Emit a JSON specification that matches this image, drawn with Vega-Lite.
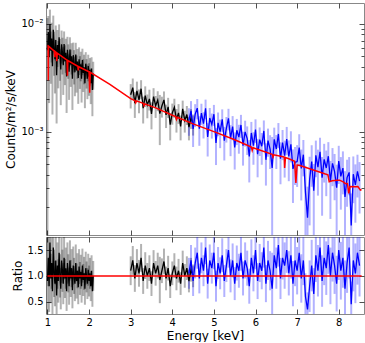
{
"$schema": "https://vega.github.io/schema/vega-lite/v6.json",
"padding": {"top": 2, "left": 4, "right": 3, "bottom": 0},
"spacing": 0,
"datasets": {
"d": [
{"e":1.00,"y":5.69e-3,"dy":5.62e-3,"r":0.90,"rd":0.89,"s":"a1"},
{"e":1.02,"y":8.40e-3,"dy":3.42e-3,"r":1.35,"rd":0.55,"s":"a1"},
{"e":1.04,"y":4.90e-3,"dy":3.06e-3,"r":0.80,"rd":0.50,"s":"a1"},
{"e":1.06,"y":9.93e-3,"dy":3.61e-3,"r":1.65,"rd":0.60,"s":"a1"},
{"e":1.08,"y":5.63e-3,"dy":2.85e-3,"r":0.95,"rd":0.48,"s":"a1"},
{"e":1.10,"y":7.31e-3,"dy":2.93e-3,"r":1.25,"rd":0.50,"s":"a1"},
{"e":1.12,"y":4.04e-3,"dy":2.60e-3,"r":0.70,"rd":0.45,"s":"a1"},
{"e":1.14,"y":8.80e-3,"dy":3.12e-3,"r":1.55,"rd":0.55,"s":"a1"},
{"e":1.16,"y":5.88e-3,"dy":2.58e-3,"r":1.05,"rd":0.46,"s":"a1"},
{"e":1.18,"y":4.69e-3,"dy":2.43e-3,"r":0.85,"rd":0.44,"s":"a1"},
{"e":1.20,"y":7.09e-3,"dy":2.56e-3,"r":1.30,"rd":0.47,"s":"a1"},
{"e":1.22,"y":3.34e-3,"dy":2.15e-3,"r":0.62,"rd":0.40,"s":"a1"},
{"e":1.24,"y":6.37e-3,"dy":2.39e-3,"r":1.20,"rd":0.45,"s":"a1"},
{"e":1.26,"y":4.72e-3,"dy":2.20e-3,"r":0.90,"rd":0.42,"s":"a1"},
{"e":1.28,"y":7.50e-3,"dy":2.38e-3,"r":1.45,"rd":0.46,"s":"a1"},
{"e":1.30,"y":5.10e-3,"dy":2.14e-3,"r":1.00,"rd":0.42,"s":"a1"},
{"e":1.32,"y":3.78e-3,"dy":2.02e-3,"r":0.75,"rd":0.40,"s":"a1"},
{"e":1.34,"y":6.47e-3,"dy":2.19e-3,"r":1.30,"rd":0.44,"s":"a1"},
{"e":1.36,"y":5.41e-3,"dy":2.02e-3,"r":1.10,"rd":0.41,"s":"a1"},
{"e":1.38,"y":4.13e-3,"dy":1.94e-3,"r":0.85,"rd":0.40,"s":"a1"},
{"e":1.40,"y":6.48e-3,"dy":2.02e-3,"r":1.35,"rd":0.42,"s":"a1"},
{"e":1.42,"y":4.51e-3,"dy":1.81e-3,"r":0.95,"rd":0.38,"s":"a1"},
{"e":1.44,"y":5.39e-3,"dy":1.88e-3,"r":1.15,"rd":0.40,"s":"a1"},
{"e":1.46,"y":3.25e-3,"dy":1.76e-3,"r":0.70,"rd":0.38,"s":"a1"},
{"e":1.48,"y":5.74e-3,"dy":1.84e-3,"r":1.25,"rd":0.40,"s":"a1"},
{"e":1.50,"y":4.77e-3,"dy":1.68e-3,"r":1.05,"rd":0.37,"s":"a1"},
{"e":1.52,"y":3.59e-3,"dy":1.62e-3,"r":0.80,"rd":0.36,"s":"a1"},
{"e":1.54,"y":5.77e-3,"dy":1.73e-3,"r":1.30,"rd":0.39,"s":"a1"},
{"e":1.56,"y":4.18e-3,"dy":1.58e-3,"r":0.95,"rd":0.36,"s":"a1"},
{"e":1.58,"y":5.00e-3,"dy":1.61e-3,"r":1.15,"rd":0.37,"s":"a1"},
{"e":1.60,"y":3.10e-3,"dy":1.51e-3,"r":0.72,"rd":0.35,"s":"a1"},
{"e":1.62,"y":5.12e-3,"dy":1.58e-3,"r":1.20,"rd":0.37,"s":"a1"},
{"e":1.64,"y":4.22e-3,"dy":1.48e-3,"r":1.00,"rd":0.35,"s":"a1"},
{"e":1.66,"y":3.55e-3,"dy":1.42e-3,"r":0.85,"rd":0.34,"s":"a1"},
{"e":1.68,"y":5.18e-3,"dy":1.49e-3,"r":1.25,"rd":0.36,"s":"a1"},
{"e":1.70,"y":3.69e-3,"dy":1.39e-3,"r":0.90,"rd":0.34,"s":"a1"},
{"e":1.72,"y":4.47e-3,"dy":1.38e-3,"r":1.10,"rd":0.34,"s":"a1"},
{"e":1.74,"y":3.14e-3,"dy":1.33e-3,"r":0.78,"rd":0.33,"s":"a1"},
{"e":1.76,"y":4.70e-3,"dy":1.35e-3,"r":1.18,"rd":0.34,"s":"a1"},
{"e":1.78,"y":3.75e-3,"dy":1.26e-3,"r":0.95,"rd":0.32,"s":"a1"},
{"e":1.80,"y":4.22e-3,"dy":1.29e-3,"r":1.08,"rd":0.33,"s":"a1"},
{"e":1.82,"y":3.10e-3,"dy":1.24e-3,"r":0.80,"rd":0.32,"s":"a1"},
{"e":1.84,"y":4.61e-3,"dy":1.27e-3,"r":1.20,"rd":0.33,"s":"a1"},
{"e":1.86,"y":3.51e-3,"dy":1.18e-3,"r":0.92,"rd":0.31,"s":"a1"},
{"e":1.88,"y":3.96e-3,"dy":1.21e-3,"r":1.05,"rd":0.32,"s":"a1"},
{"e":1.90,"y":2.81e-3,"dy":1.16e-3,"r":0.75,"rd":0.31,"s":"a1"},
{"e":1.92,"y":4.27e-3,"dy":1.19e-3,"r":1.15,"rd":0.32,"s":"a1"},
{"e":1.94,"y":3.61e-3,"dy":1.10e-3,"r":0.98,"rd":0.30,"s":"a1"},
{"e":1.96,"y":3.10e-3,"dy":1.10e-3,"r":0.85,"rd":0.30,"s":"a1"},
{"e":1.98,"y":4.05e-3,"dy":1.12e-3,"r":1.12,"rd":0.31,"s":"a1"},
{"e":2.00,"y":3.23e-3,"dy":1.08e-3,"r":0.90,"rd":0.30,"s":"a1"},
{"e":2.02,"y":3.74e-3,"dy":1.07e-3,"r":1.05,"rd":0.30,"s":"a1"},
{"e":2.04,"y":2.82e-3,"dy":1.02e-3,"r":0.80,"rd":0.29,"s":"a1"},
{"e":2.06,"y":3.85e-3,"dy":1.05e-3,"r":1.10,"rd":0.30,"s":"a1"},
{"e":2.08,"y":2.43e-3,"dy":1.04e-3,"r":0.70,"rd":0.30,"s":"a1"},
{"e":2.10,"y":3.45e-3,"dy":1.00e-3,"r":1.00,"rd":0.29,"s":"a1"},
{"e":3.00,"y":2.20e-3,"dy":5.6e-4,"r":1.10,"rd":0.28,"s":"a2"},
{"e":3.05,"y":2.56e-3,"dy":5.5e-4,"r":1.30,"rd":0.28,"s":"a2"},
{"e":3.10,"y":1.84e-3,"dy":5.0e-4,"r":0.95,"rd":0.26,"s":"a2"},
{"e":3.15,"y":2.39e-3,"dy":5.2e-4,"r":1.25,"rd":0.27,"s":"a2"},
{"e":3.20,"y":1.97e-3,"dy":4.9e-4,"r":1.05,"rd":0.26,"s":"a2"},
{"e":3.25,"y":2.50e-3,"dy":5.0e-4,"r":1.35,"rd":0.27,"s":"a2"},
{"e":3.30,"y":1.65e-3,"dy":4.6e-4,"r":0.90,"rd":0.25,"s":"a2"},
{"e":3.35,"y":2.16e-3,"dy":4.7e-4,"r":1.20,"rd":0.26,"s":"a2"},
{"e":3.40,"y":1.77e-3,"dy":4.4e-4,"r":1.00,"rd":0.25,"s":"a2"},
{"e":3.45,"y":2.01e-3,"dy":4.4e-4,"r":1.15,"rd":0.25,"s":"a2"},
{"e":3.50,"y":1.46e-3,"dy":4.1e-4,"r":0.85,"rd":0.24,"s":"a2"},
{"e":3.55,"y":2.11e-3,"dy":4.2e-4,"r":1.25,"rd":0.25,"s":"a2"},
{"e":3.60,"y":1.74e-3,"dy":4.0e-4,"r":1.05,"rd":0.24,"s":"a2"},
{"e":3.65,"y":1.96e-3,"dy":4.1e-4,"r":1.20,"rd":0.25,"s":"a2"},
{"e":3.70,"y":1.47e-3,"dy":7.2e-4,"r":0.92,"rd":0.45,"s":"a2"},
{"e":3.75,"y":1.73e-3,"dy":3.8e-4,"r":1.10,"rd":0.24,"s":"a2"},
{"e":3.80,"y":1.97e-3,"dy":3.9e-4,"r":1.28,"rd":0.25,"s":"a2"},
{"e":3.85,"y":1.43e-3,"dy":3.5e-4,"r":0.95,"rd":0.23,"s":"a2"},
{"e":3.90,"y":1.70e-3,"dy":3.6e-4,"r":1.15,"rd":0.24,"s":"a2"},
{"e":3.95,"y":1.16e-3,"dy":3.3e-4,"r":0.80,"rd":0.23,"s":"a2"},
{"e":4.00,"y":1.49e-3,"dy":3.3e-4,"r":1.05,"rd":0.23,"s":"a2"},
{"e":4.05,"y":1.68e-3,"dy":3.4e-4,"r":1.20,"rd":0.24,"s":"a2"},
{"e":4.10,"y":1.30e-3,"dy":3.2e-4,"r":0.95,"rd":0.23,"s":"a2"},
{"e":4.15,"y":1.49e-3,"dy":3.1e-4,"r":1.10,"rd":0.23,"s":"a2"},
{"e":4.20,"y":1.12e-3,"dy":2.9e-4,"r":0.85,"rd":0.22,"s":"a2"},
{"e":4.25,"y":1.63e-3,"dy":3.1e-4,"r":1.25,"rd":0.24,"s":"a2"},
{"e":4.30,"y":1.27e-3,"dy":2.9e-4,"r":1.00,"rd":0.23,"s":"a2"},
{"e":4.35,"y":1.44e-3,"dy":2.9e-4,"r":1.15,"rd":0.23,"s":"a2"},
{"e":4.40,"y":1.10e-3,"dy":2.7e-4,"r":0.90,"rd":0.22,"s":"a2"},
{"e":4.45,"y":1.34e-3,"dy":2.8e-4,"r":1.12,"rd":0.23,"s":"a2"},
{"e":4.50,"y":1.18e-3,"dy":2.6e-4,"r":1.00,"rd":0.22,"s":"a2"},
{"e":4.40,"y":1.281e-3,"dy":3.66e-4,"r":1.05,"rd":0.30,"s":"b"},
{"e":4.45,"y":1.56e-3,"dy":3.6e-4,"r":1.30,"rd":0.30,"s":"b"},
{"e":4.50,"y":1.062e-3,"dy":3.42e-4,"r":0.90,"rd":0.29,"s":"b"},
{"e":4.55,"y":1.45e-3,"dy":3.48e-4,"r":1.25,"rd":0.30,"s":"b"},
{"e":4.60,"y":1.653e-3,"dy":3.53e-4,"r":1.45,"rd":0.31,"s":"b"},
{"e":4.65,"y":1.064e-3,"dy":3.25e-4,"r":0.95,"rd":0.29,"s":"b"},
{"e":4.70,"y":1.485e-3,"dy":3.3e-4,"r":1.35,"rd":0.30,"s":"b"},
{"e":4.75,"y":1.188e-3,"dy":3.24e-4,"r":1.10,"rd":0.30,"s":"b"},
{"e":4.80,"y":1.643e-3,"dy":3.39e-4,"r":1.55,"rd":0.32,"s":"b"},
{"e":4.85,"y":8.93e-4,"dy":3.05e-4,"r":0.85,"rd":0.29,"s":"b"},
{"e":4.90,"y":1.339e-3,"dy":3.19e-4,"r":1.30,"rd":0.31,"s":"b"},
{"e":4.95,"y":1.167e-3,"dy":3.05e-4,"r":1.15,"rd":0.30,"s":"b"},
{"e":5.00,"y":1.45e-3,"dy":3.2e-4,"r":1.45,"rd":0.32,"s":"b"},
{"e":5.05,"y":7.84e-4,"dy":2.94e-4,"r":0.80,"rd":0.30,"s":"b"},
{"e":5.10,"y":1.206e-3,"dy":2.99e-4,"r":1.25,"rd":0.31,"s":"b"},
{"e":5.15,"y":9.98e-4,"dy":2.95e-4,"r":1.05,"rd":0.31,"s":"b"},
{"e":5.20,"y":1.302e-3,"dy":3.07e-4,"r":1.40,"rd":0.33,"s":"b"},
{"e":5.25,"y":8.24e-4,"dy":2.84e-4,"r":0.90,"rd":0.31,"s":"b"},
{"e":5.30,"y":1.08e-3,"dy":2.88e-4,"r":1.20,"rd":0.32,"s":"b"},
{"e":5.35,"y":1.328e-3,"dy":3.01e-4,"r":1.50,"rd":0.34,"s":"b"},
{"e":5.40,"y":8.7e-4,"dy":2.78e-4,"r":1.00,"rd":0.32,"s":"b"},
{"e":5.45,"y":1.112e-3,"dy":2.82e-4,"r":1.30,"rd":0.33,"s":"b"},
{"e":5.50,"y":7.14e-4,"dy":2.69e-4,"r":0.85,"rd":0.32,"s":"b"},
{"e":5.55,"y":1.031e-3,"dy":2.81e-4,"r":1.25,"rd":0.34,"s":"b"},
{"e":5.60,"y":8.91e-4,"dy":2.67e-4,"r":1.10,"rd":0.33,"s":"b"},
{"e":5.65,"y":1.153e-3,"dy":2.78e-4,"r":1.45,"rd":0.35,"s":"b"},
{"e":5.70,"y":7.41e-4,"dy":2.57e-4,"r":0.95,"rd":0.33,"s":"b"},
{"e":5.75,"y":9.95e-4,"dy":2.68e-4,"r":1.30,"rd":0.35,"s":"b"},
{"e":5.80,"y":8.63e-4,"dy":2.55e-4,"r":1.15,"rd":0.34,"s":"b"},
{"e":5.85,"y":5.88e-4,"dy":2.5e-4,"r":0.80,"rd":0.34,"s":"b"},
{"e":5.90,"y":9.72e-4,"dy":2.59e-4,"r":1.35,"rd":0.36,"s":"b"},
{"e":5.95,"y":7.4e-4,"dy":2.47e-4,"r":1.05,"rd":0.35,"s":"b"},
{"e":6.00,"y":1.043e-3,"dy":2.57e-4,"r":1.50,"rd":0.37,"s":"b"},
{"e":6.05,"y":6.17e-4,"dy":2.4e-4,"r":0.90,"rd":0.35,"s":"b"},
{"e":6.10,"y":8.44e-4,"dy":2.5e-4,"r":1.25,"rd":0.37,"s":"b"},
{"e":6.15,"y":7.32e-4,"dy":2.39e-4,"r":1.10,"rd":0.36,"s":"b"},
{"e":6.20,"y":1.015e-3,"dy":2.55e-4,"r":1.55,"rd":0.39,"s":"b"},
{"e":6.25,"y":5.48e-4,"dy":2.32e-4,"r":0.85,"rd":0.36,"s":"b"},
{"e":6.30,"y":8.26e-4,"dy":2.41e-4,"r":1.30,"rd":0.38,"s":"b"},
{"e":6.35,"y":6.88e-4,"dy":2.38e-4,"r":1.10,"rd":0.38,"s":"b"},
{"e":6.40,"y":4.61e-4,"dy":4.31e-4,"r":0.75,"rd":0.70,"s":"b"},
{"e":6.45,"y":8.47e-4,"dy":2.42e-4,"r":1.40,"rd":0.40,"s":"b"},
{"e":6.50,"y":6.9e-4,"dy":2.4e-4,"r":1.15,"rd":0.40,"s":"b"},
{"e":6.55,"y":9.52e-4,"dy":2.5e-4,"r":1.60,"rd":0.42,"s":"b"},
{"e":6.60,"y":5.61e-4,"dy":2.36e-4,"r":0.95,"rd":0.40,"s":"b"},
{"e":6.65,"y":7.9e-4,"dy":2.46e-4,"r":1.35,"rd":0.42,"s":"b"},
{"e":6.70,"y":6.0e-4,"dy":2.25e-4,"r":1.20,"rd":0.45,"s":"b"},
{"e":6.75,"y":8.55e-4,"dy":2.51e-4,"r":1.50,"rd":0.44,"s":"b"},
{"e":6.80,"y":5.88e-4,"dy":2.41e-4,"r":1.05,"rd":0.43,"s":"b"},
{"e":6.85,"y":7.63e-4,"dy":2.45e-4,"r":1.40,"rd":0.45,"s":"b"},
{"e":6.90,"y":4.51e-4,"dy":2.33e-4,"r":0.85,"rd":0.44,"s":"b"},
{"e":6.95,"y":5.2e-4,"dy":2.0e-4,"r":1.30,"rd":0.50,"s":"b"},
{"e":7.00,"y":5.28e-4,"dy":2.21e-4,"r":1.10,"rd":0.46,"s":"b"},
{"e":7.05,"y":7.11e-4,"dy":2.35e-4,"r":1.45,"rd":0.48,"s":"b"},
{"e":7.10,"y":4.56e-4,"dy":2.26e-4,"r":0.95,"rd":0.47,"s":"b"},
{"e":7.15,"y":6.11e-4,"dy":2.26e-4,"r":1.30,"rd":0.48,"s":"b"},
{"e":7.20,"y":2.76e-4,"dy":2.07e-4,"r":0.60,"rd":0.45,"s":"b"},
{"e":7.25,"y":1.59e-4,"dy":1.5e-4,"r":0.35,"rd":0.33,"s":"b"},
{"e":7.30,"y":3.6e-4,"dy":2.25e-4,"r":0.80,"rd":0.50,"s":"b"},
{"e":7.35,"y":5.28e-4,"dy":2.2e-4,"r":1.20,"rd":0.50,"s":"b"},
{"e":7.40,"y":2.83e-4,"dy":2.18e-4,"r":0.65,"rd":0.50,"s":"b"},
{"e":7.45,"y":6.02e-4,"dy":2.24e-4,"r":1.40,"rd":0.52,"s":"b"},
{"e":7.50,"y":4.68e-4,"dy":2.13e-4,"r":1.10,"rd":0.50,"s":"b"},
{"e":7.55,"y":6.51e-4,"dy":2.27e-4,"r":1.55,"rd":0.54,"s":"b"},
{"e":7.60,"y":3.74e-4,"dy":2.08e-4,"r":0.90,"rd":0.50,"s":"b"},
{"e":7.65,"y":5.54e-4,"dy":2.17e-4,"r":1.35,"rd":0.53,"s":"b"},
{"e":7.70,"y":4.6e-4,"dy":2.08e-4,"r":1.15,"rd":0.52,"s":"b"},
{"e":7.75,"y":5.92e-4,"dy":2.07e-4,"r":1.60,"rd":0.56,"s":"b"},
{"e":7.80,"y":3.45e-4,"dy":1.9e-4,"r":1.00,"rd":0.55,"s":"b"},
{"e":7.85,"y":5.08e-4,"dy":1.96e-4,"r":1.45,"rd":0.56,"s":"b"},
{"e":7.90,"y":4.26e-4,"dy":1.95e-4,"r":1.20,"rd":0.55,"s":"b"},
{"e":7.95,"y":3.02e-4,"dy":1.92e-4,"r":0.85,"rd":0.54,"s":"b"},
{"e":8.00,"y":5.33e-4,"dy":2.06e-4,"r":1.50,"rd":0.58,"s":"b"},
{"e":8.05,"y":3.85e-4,"dy":1.96e-4,"r":1.10,"rd":0.56,"s":"b"},
{"e":8.10,"y":4.59e-4,"dy":1.97e-4,"r":1.35,"rd":0.58,"s":"b"},
{"e":8.15,"y":2.48e-4,"dy":1.82e-4,"r":0.75,"rd":0.55,"s":"b"},
{"e":8.20,"y":3.75e-4,"dy":1.74e-4,"r":1.25,"rd":0.58,"s":"b"},
{"e":8.25,"y":4.19e-4,"dy":1.62e-4,"r":1.55,"rd":0.60,"s":"b"},
{"e":8.30,"y":1.35e-4,"dy":1.32e-4,"r":0.45,"rd":0.44,"s":"b"},
{"e":8.35,"y":4.03e-4,"dy":1.86e-4,"r":1.30,"rd":0.60,"s":"b"},
{"e":8.40,"y":3.2e-4,"dy":1.77e-4,"r":1.05,"rd":0.58,"s":"b"},
{"e":8.45,"y":4.28e-4,"dy":1.83e-4,"r":1.45,"rd":0.62,"s":"b"},
{"e":8.50,"y":3.48e-4,"dy":1.74e-4,"r":1.20,"rd":0.60,"s":"b"}
],
"m": [
{"e":1.00,"v":6.32e-3},{"e":1.015,"v":6.25e-3},{"e":1.02,"v":3.0e-3},{"e":1.025,"v":6.2e-3},
{"e":1.165,"v":5.58e-3},{"e":1.175,"v":4.9e-3},{"e":1.185,"v":5.53e-3},
{"e":1.215,"v":5.41e-3},{"e":1.225,"v":4.5e-3},{"e":1.235,"v":5.34e-3},
{"e":1.47,"v":4.61e-3},{"e":1.48,"v":3.3e-3},{"e":1.49,"v":4.57e-3},
{"e":1.73,"v":4.04e-3},{"e":1.74,"v":3.7e-3},{"e":1.75,"v":4.0e-3},
{"e":2.00,"v":3.59e-3},{"e":2.015,"v":2.3e-3},{"e":2.03,"v":3.55e-3},
{"e":2.5,"v":2.75e-3},{"e":3.0,"v":2.02e-3},
{"e":3.1,"v":1.94e-3},{"e":3.12,"v":1.85e-3},{"e":3.14,"v":1.93e-3},
{"e":3.30,"v":1.83e-3},{"e":3.32,"v":1.74e-3},{"e":3.34,"v":1.81e-3},
{"e":3.6,"v":1.66e-3},{"e":4.0,"v":1.42e-3},
{"e":4.08,"v":1.38e-3},{"e":4.1,"v":1.3e-3},{"e":4.12,"v":1.36e-3},
{"e":4.5,"v":1.18e-3},{"e":5.0,"v":1.0e-3},{"e":5.5,"v":8.4e-4},
{"e":5.9,"v":7.2e-4},{"e":5.92,"v":6.7e-4},{"e":5.94,"v":7.1e-4},
{"e":6.40,"v":6.15e-4},{"e":6.42,"v":5.8e-4},{"e":6.44,"v":6.1e-4},
{"e":6.66,"v":5.85e-4},{"e":6.69,"v":5.8e-4},{"e":6.70,"v":4.6e-4},{"e":6.72,"v":5.75e-4},
{"e":6.80,"v":5.6e-4},{"e":6.94,"v":5.3e-4},{"e":6.97,"v":3.34e-4},{"e":7.00,"v":4.9e-4},
{"e":7.05,"v":4.88e-4},{"e":7.68,"v":4.04e-4},{"e":7.74,"v":3.98e-4},{"e":7.77,"v":3.43e-4},
{"e":7.84,"v":3.5e-4},{"e":7.96,"v":3.55e-4},{"e":8.02,"v":3.55e-4},{"e":8.12,"v":3.4e-4},
{"e":8.15,"v":3.31e-4},{"e":8.21,"v":3.3e-4},{"e":8.24,"v":2.68e-4},{"e":8.27,"v":3.1e-4},
{"e":8.40,"v":3.08e-4},{"e":8.46,"v":3.1e-4},{"e":8.52,"v":2.87e-4},{"e":8.55,"v":2.9e-4}
],
"u": [{"e":1.0,"r":1},{"e":8.55,"r":1}]
},
"vconcat": [
{
"width": 318, "height": 232,
"layer": [
{"data": {"name": "d"},
 "mark": {"type": "errorbar", "ticks": false, "clip": true, "opacity": 0.3, "thickness": 2},
 "encoding": {
  "x": {"field": "e", "type": "quantitative", "scale": {"domain": [0.965, 8.607], "nice": false, "zero": false},
        "axis": {"orient": "bottom", "values": [1,2,3,4,5,6,7,8], "labels": false, "title": null}},
  "y": {"field": "y", "type": "quantitative", "scale": {"type": "log", "domain": [1.1e-4, 0.0156], "nice": false},
        "axis": {"orient": "left", "values": [2e-4,3e-4,4e-4,5e-4,6e-4,7e-4,8e-4,9e-4,1e-3,2e-3,3e-3,4e-3,5e-3,6e-3,7e-3,8e-3,9e-3,1e-2],
                 "labelExpr": "datum.value == 0.01 ? '10⁻²' : datum.value == 0.001 ? '10⁻³' : ''",
                 "tickDash": {"condition": {"test": "datum.value == 0.01 || datum.value == 0.001", "value": [6, 0]}, "value": [3, 20]},
                 "title": "Counts/m²/s/keV"}},
  "yError": {"field": "dy"},
  "color": {"field": "s", "type": "nominal", "scale": {"domain": ["a1","a2","b"], "range": ["black","black","blue"]}, "legend": null}
 }},
{"data": {"name": "d"},
 "mark": {"type": "line", "clip": true, "strokeWidth": 1.3},
 "encoding": {
  "x": {"field": "e", "type": "quantitative", "axis": null},
  "y": {"field": "y", "type": "quantitative", "axis": null},
  "color": {"field": "s", "type": "nominal", "legend": null}
 }},
{"data": {"name": "m"},
 "mark": {"type": "line", "clip": true, "color": "red", "strokeWidth": 1.5},
 "encoding": {
  "x": {"field": "e", "type": "quantitative", "axis": {"orient": "top", "values": [1,2,3,4,5,6,7,8], "labels": false, "title": null}},
  "y": {"field": "v", "type": "quantitative",
        "axis": {"orient": "right", "values": [2e-4,3e-4,4e-4,5e-4,6e-4,7e-4,8e-4,9e-4,1e-3,2e-3,3e-3,4e-3,5e-3,6e-3,7e-3,8e-3,9e-3,1e-2],
                 "labels": false, "title": null,
                 "tickDash": {"condition": {"test": "datum.value == 0.01 || datum.value == 0.001", "value": [6, 0]}, "value": [3, 20]}}}
 }}
],
"resolve": {"axis": {"x": "independent", "y": "independent"}}
},
{
"width": 318, "height": 77,
"layer": [
{"data": {"name": "d"},
 "mark": {"type": "errorbar", "ticks": false, "clip": true, "opacity": 0.3, "thickness": 2},
 "encoding": {
  "x": {"field": "e", "type": "quantitative", "scale": {"domain": [0.965, 8.607], "nice": false, "zero": false},
        "axis": {"orient": "bottom", "values": [1,2,3,4,5,6,7,8], "format": "d", "title": "Energy [keV]"}},
  "y": {"field": "r", "type": "quantitative", "scale": {"domain": [0.26, 1.755], "nice": false, "zero": false},
        "axis": {"orient": "left", "values": [0.5, 1.0, 1.5], "format": ".1f", "title": "Ratio"}},
  "yError": {"field": "rd"},
  "color": {"field": "s", "type": "nominal", "scale": {"domain": ["a1","a2","b"], "range": ["black","black","blue"]}, "legend": null}
 }},
{"data": {"name": "d"},
 "mark": {"type": "line", "clip": true, "strokeWidth": 1.3},
 "encoding": {
  "x": {"field": "e", "type": "quantitative", "axis": null},
  "y": {"field": "r", "type": "quantitative", "axis": null},
  "color": {"field": "s", "type": "nominal", "legend": null}
 }},
{"data": {"name": "u"},
 "mark": {"type": "line", "clip": true, "color": "red", "strokeWidth": 1.5},
 "encoding": {
  "x": {"field": "e", "type": "quantitative", "axis": {"orient": "top", "values": [1,2,3,4,5,6,7,8], "labels": false, "title": null}},
  "y": {"field": "r", "type": "quantitative", "axis": {"orient": "right", "values": [0.5, 1.0, 1.5], "labels": false, "title": null}}
 }}
],
"resolve": {"axis": {"x": "independent", "y": "independent"}}
}
],
"config": {
 "view": {"stroke": "#888888", "strokeWidth": 1},
 "axis": {"domain": false, "grid": false, "ticks": true, "tickSize": -5, "tickColor": "#222222", "tickWidth": 0.8,
          "labelFont": "DejaVu Sans", "labelFontSize": 10, "labelColor": "black", "labelPadding": 8,
          "titleFont": "DejaVu Sans", "titleFontSize": 12, "titleFontWeight": "normal", "titleColor": "black", "titlePadding": 3}
}
}
